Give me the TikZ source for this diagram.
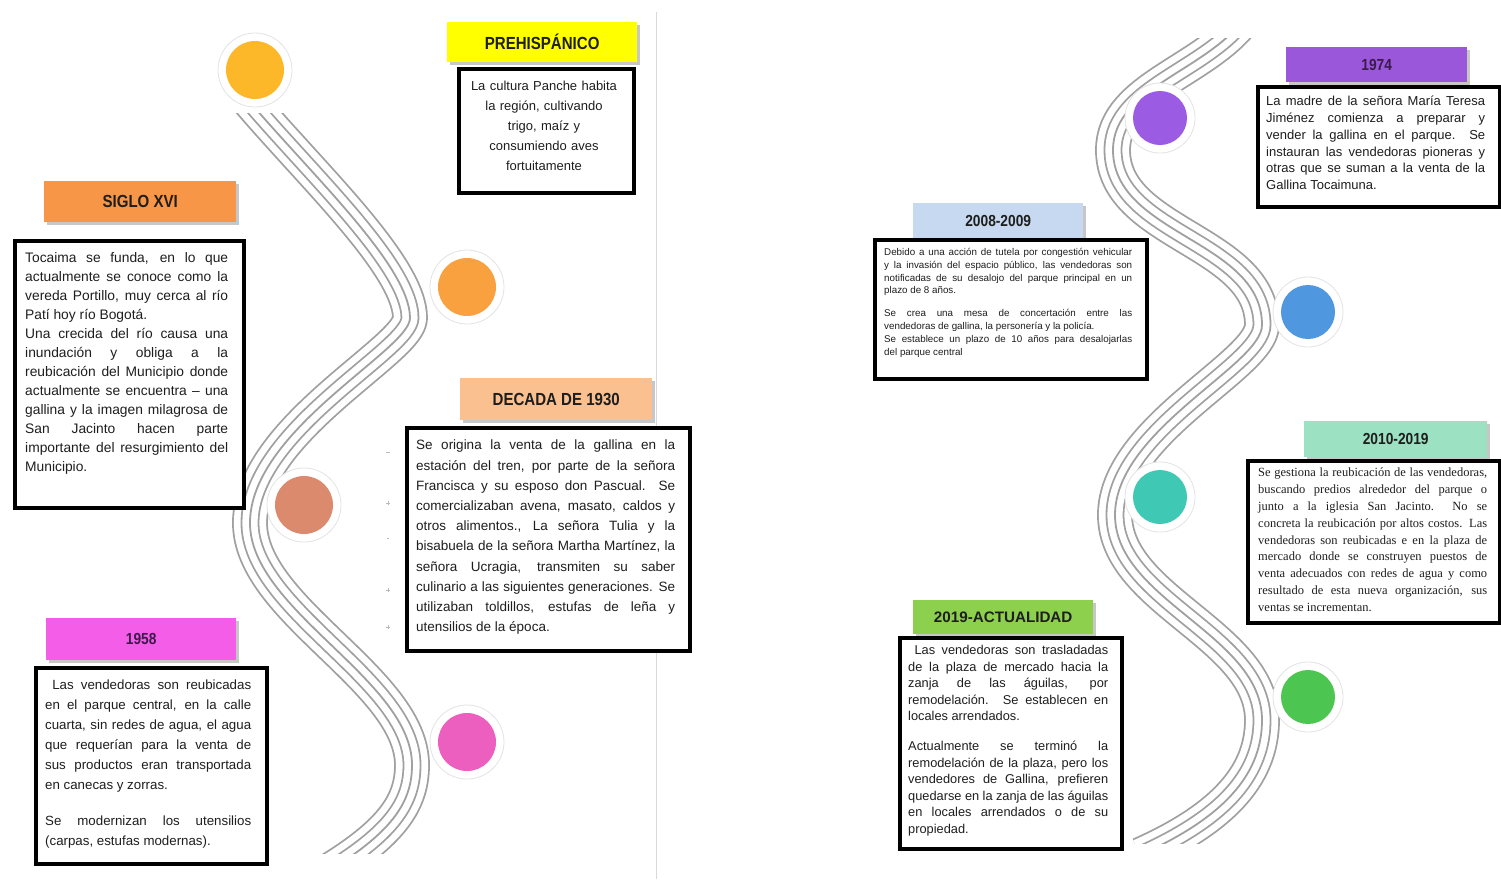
\documentclass[tikz,border=0pt]{standalone}
\usepackage{fontspec}
\setmainfont{Liberation Sans}
\newfontfamily\hfont[FakeStretch=0.86]{Liberation Sans}
\newfontfamily\serfont{Liberation Serif}
\usetikzlibrary{shadows}
\definecolor{wavegray}{HTML}{A0A0A0}
\definecolor{hyellow}{HTML}{FFFF00}
\definecolor{horange}{HTML}{F79646}
\definecolor{hpeach}{HTML}{FAC090}
\definecolor{hpink}{HTML}{F35DE8}
\definecolor{hblue}{HTML}{C6D9F1}
\definecolor{hpurple}{HTML}{9A57DA}
\definecolor{hmint}{HTML}{9BE1C2}
\definecolor{hgreen}{HTML}{8CD04E}
\definecolor{cgold}{HTML}{FDB82A}
\definecolor{corange}{HTML}{F9A03F}
\definecolor{csalmon}{HTML}{DB8A6E}
\definecolor{cpink}{HTML}{EC5FBE}
\definecolor{cpurple}{HTML}{9B5BE3}
\definecolor{cblue}{HTML}{4F97DE}
\definecolor{cteal}{HTML}{3FC9B4}
\definecolor{cgreen}{HTML}{4CC650}
\definecolor{txt}{HTML}{1E1E1E}
\definecolor{hdpurple}{HTML}{3C1A4A}
\newcommand\tjust[1]{\noindent\hbox to\hsize{\spaceskip=0pt\xspaceskip=0pt #1}\par}
\newcommand\tlast[1]{\noindent\hbox to\hsize{\spaceskip=0pt\xspaceskip=0pt #1\hfil}\par}
\newcommand\tgap[1]{\par\vskip#1\relax}
\begin{document}
\begin{tikzpicture}[x=1pt,y=-1pt,
  hdr/.style={anchor=north west, inner sep=0pt, text=txt,
    font=\hfont\bfseries\fontsize{17.5}{19}\selectfont,
    drop shadow={shadow xshift=2.5pt,shadow yshift=-2.5pt,fill=black,opacity=0.22}},
  hdrs/.style={hdr, font=\hfont\bfseries\fontsize{16}{18}\selectfont},
  bodybox/.style={anchor=north west, draw=black, line width=4pt, fill=white, inner sep=0pt},
  bodytext/.style={anchor=north west, inner sep=0pt, align=left, text=txt},
  halo/.style={circle, fill=white, draw=gray!22, line width=0.8pt, inner sep=0pt},
  dot/.style={circle, fill=#1, inner sep=0pt},
  tick/.style={draw=gray!55, line width=0.6pt}]
\useasboundingbox (0,0) rectangle (1501,879);
\fill[white] (0,0) rectangle (1501,879);
\draw[gray!30, line width=1pt] (656,12) -- (656,879);

% ---- left wave ----
\begin{scope}
\clip (0,113) rectangle (650,853);
\foreach \w/\c in {35.8/wavegray,32.2/white,18.8/wavegray,15.2/white,1.8/wavegray}{
  \draw[line width=\w pt, color=\c, line join=round]
    (230,78) .. controls (295,160) and (410,262) .. (410,318)
    .. controls (410,350) and (250,430) .. (250,523)
    .. controls (250,610) and (412,680) .. (412,765)
    .. controls (412,800) and (395,830) .. (330,870);
}
\end{scope}
% ---- right wave ----
\begin{scope}
\clip (700,38) rectangle (1501,843);
\foreach \w/\c in {35.8/wavegray,32.2/white,18.8/wavegray,15.2/white,1.8/wavegray}{
  \draw[line width=\w pt, color=\c, line join=round]
    (1250,10) .. controls (1215,70) and (1113,85) .. (1113,150)
    .. controls (1113,235) and (1262,240) .. (1262,325)
    .. controls (1262,365) and (1115,430) .. (1115,515)
    .. controls (1115,600) and (1262,635) .. (1262,720)
    .. controls (1262,770) and (1230,815) .. (1140,855);
}
\end{scope}

% ---- circles ----
\node[halo, minimum size=74pt] (c1h) at (255,70) {};
\node[dot=cgold, minimum size=58pt] (c1) at (255,70) {};
\node[halo, minimum size=74pt] (c2h) at (467,287) {};
\node[dot=corange, minimum size=58pt] (c2) at (467,287) {};
\node[halo, minimum size=74pt] (c3h) at (304,505) {};
\node[dot=csalmon, minimum size=58pt] (c3) at (304,505) {};
\node[halo, minimum size=74pt] (c4h) at (467,742) {};
\node[dot=cpink, minimum size=58pt] (c4) at (467,742) {};
\node[halo, minimum size=70pt] (c5h) at (1160,118) {};
\node[dot=cpurple, minimum size=54pt] (c5) at (1160,118) {};
\node[halo, minimum size=70pt] (c6h) at (1308,312) {};
\node[dot=cblue, minimum size=54pt] (c6) at (1308,312) {};
\node[halo, minimum size=70pt] (c7h) at (1160,497) {};
\node[dot=cteal, minimum size=54pt] (c7) at (1160,497) {};
\node[halo, minimum size=70pt] (c8h) at (1308,697) {};
\node[dot=cgreen, minimum size=54pt] (c8) at (1308,697) {};

% ---- small marks ----
\draw[tick] (386,452) -- (390,452);
\draw[tick] (386,503) -- (390,503) (388,501) -- (388,505);
\draw[tick] (387,538) -- (389,538);
\draw[tick] (386,590) -- (390,590) (388,588) -- (388,592);
\draw[tick] (386,627) -- (390,627) (388,625) -- (388,629);

% ---- PREHISPANICO ----
\node[hdr, fill=hyellow, minimum width=190pt, minimum height=40pt] (h1) at (447,22) {PREHISPÁNICO};
\node[bodybox, minimum width=175pt, minimum height=124pt] (b1) at (457,67) {};
\node[anchor=north, inner sep=0pt, align=center, text width=172pt, text=txt,
  font=\fontsize{13}{20}\selectfont] (t1) at (544,81)
  {La cultura Panche habita\\la región, cultivando\\trigo, maíz y\\consumiendo aves\\fortuitamente};

% ---- SIGLO XVI ----
\node[hdr, fill=horange, minimum width=192pt, minimum height=41pt] (h2) at (44,181) {SIGLO XVI};
\node[bodybox, minimum width=229pt, minimum height=267pt] (b2) at (13,239) {};
\node[bodytext, text width=203pt, font=\fontsize{13.8}{19}\selectfont] (t2) at (25,252) {%
\tjust{Tocaima se funda, en lo que}%
\tjust{actualmente se conoce como la}%
\tjust{vereda Portillo, muy cerca al río}%
\tlast{Patí hoy río Bogotá.}%
\tjust{Una crecida del río causa una}%
\tjust{inundación y obliga a la}%
\tjust{reubicación del Municipio donde}%
\tjust{actualmente se encuentra – una}%
\tjust{gallina y la imagen milagrosa de}%
\tjust{San Jacinto hacen parte}%
\tjust{importante del resurgimiento del}%
\tlast{Municipio.}};

% ---- DECADA DE 1930 ----
\node[hdr, fill=hpeach, minimum width=192pt, minimum height=42pt] (h3) at (460,378) {DECADA DE 1930};
\node[bodybox, minimum width=283pt, minimum height=223pt] (b3) at (405,426) {};
\node[bodytext, text width=259pt, font=\fontsize{13.5}{20.2}\selectfont] (t3) at (416,440) {%
\tjust{Se origina la venta de la gallina en la}%
\tjust{estación del tren, por parte de la señora}%
\tjust{Francisca y su esposo don Pascual. Se}%
\tjust{comercializaban avena, masato, caldos y}%
\tjust{otros alimentos., La señora Tulia y la}%
\tjust{bisabuela de la señora Martha Martínez, la}%
\tjust{señora Ucragia, transmiten su saber}%
\tjust{culinario a las siguientes generaciones. Se}%
\tjust{utilizaban toldillos, estufas de leña y}%
\tlast{utensilios de la época.}};

% ---- 1958 ----
\node[hdrs, fill=hpink, minimum width=190pt, minimum height=42pt, text=hdpurple] (h4) at (46,618) {1958};
\node[bodybox, minimum width=231pt, minimum height=196pt] (b4) at (34,666) {};
\node[bodytext, text width=206pt, font=\fontsize{13.3}{20}\selectfont] (t4) at (45,680) {%
\tjust{\ Las vendedoras son reubicadas}%
\tjust{en el parque central, en la calle}%
\tjust{cuarta, sin redes de agua, el agua}%
\tjust{que requerían para la venta de}%
\tjust{sus productos eran transportada}%
\tlast{en canecas y zorras.}%
\tgap{16pt}%
\tjust{Se modernizan los utensilios}%
\tlast{(carpas, estufas modernas).}};

% ---- 1974 ----
\node[hdrs, fill=hpurple, minimum width=181pt, minimum height=35pt, text=hdpurple] (h6) at (1286,47) {1974};
\node[bodybox, minimum width=242pt, minimum height=120pt] (b6) at (1256,85) {};
\node[bodytext, text width=219pt, font=\fontsize{13}{16.8}\selectfont] (t6) at (1266,96) {%
\tjust{La madre de la señora María Teresa}%
\tjust{Jiménez comienza a preparar y}%
\tjust{vender la gallina en el parque. Se}%
\tjust{instauran las vendedoras pioneras y}%
\tjust{otras que se suman a la venta de la}%
\tlast{Gallina Tocaimuna.}};

% ---- 2008-2009 ----
\node[hdrs, fill=hblue, minimum width=170pt, minimum height=35pt] (h5) at (913,203) {2008-2009};
\node[bodybox, minimum width=272pt, minimum height=139pt] (b5) at (873,238) {};
\node[bodytext, text width=248pt, font=\fontsize{9.8}{12.8}\selectfont] (t5) at (884,248) {%
\tjust{Debido a una acción de tutela por congestión vehicular}%
\tjust{y la invasión del espacio público, las vendedoras son}%
\tjust{notificadas de su desalojo del parque principal en un}%
\tlast{plazo de 8 años.}%
\tgap{10pt}%
\tjust{Se crea una mesa de concertación entre las}%
\tlast{vendedoras de gallina, la personería y la policía.}%
\tjust{Se establece un plazo de 10 años para desalojarlas}%
\tlast{del parque central}};

% ---- 2010-2019 ----
\node[hdrs, fill=hmint, minimum width=183pt, minimum height=36pt] (h7) at (1304,421) {2010-2019};
\node[bodybox, minimum width=252pt, minimum height=162pt] (b7) at (1246,459) {};
\node[bodytext, text width=229pt, font=\serfont\fontsize{12.5}{16.8}\selectfont] (t7) at (1258,468) {%
\tjust{Se gestiona la reubicación de las vendedoras,}%
\tjust{buscando predios alrededor del parque o}%
\tjust{junto a la iglesia San Jacinto.\ \ No se}%
\tjust{concreta la reubicación por altos costos. Las}%
\tjust{vendedoras son reubicadas e en la plaza de}%
\tjust{mercado donde se construyen puestos de}%
\tjust{venta adecuados con redes de agua y como}%
\tjust{resultado de esta nueva organización, sus}%
\tlast{ventas se incrementan.}};

% ---- 2019-ACTUALIDAD ----
\node[hdr, fill=hgreen, minimum width=180pt, minimum height=34pt,
  font=\bfseries\fontsize{15.2}{17}\selectfont] (h8) at (913,600) {2019-ACTUALIDAD};
\node[bodybox, minimum width=222pt, minimum height=211pt] (b8) at (898,636) {};
\node[bodytext, text width=200pt, font=\fontsize{12.8}{16.6}\selectfont] (t8) at (908,645) {%
\tjust{\ Las vendedoras son trasladadas}%
\tjust{de la plaza de mercado hacia la}%
\tjust{zanja de las águilas, por}%
\tjust{remodelación. Se establecen en}%
\tlast{locales arrendados.}%
\tgap{13pt}%
\tjust{Actualmente se terminó la}%
\tjust{remodelación de la plaza, pero los}%
\tjust{vendedores de Gallina, prefieren}%
\tjust{quedarse en la zanja de las águilas}%
\tjust{en locales arrendados o de su}%
\tlast{propiedad.}};
\end{tikzpicture}
\end{document}
